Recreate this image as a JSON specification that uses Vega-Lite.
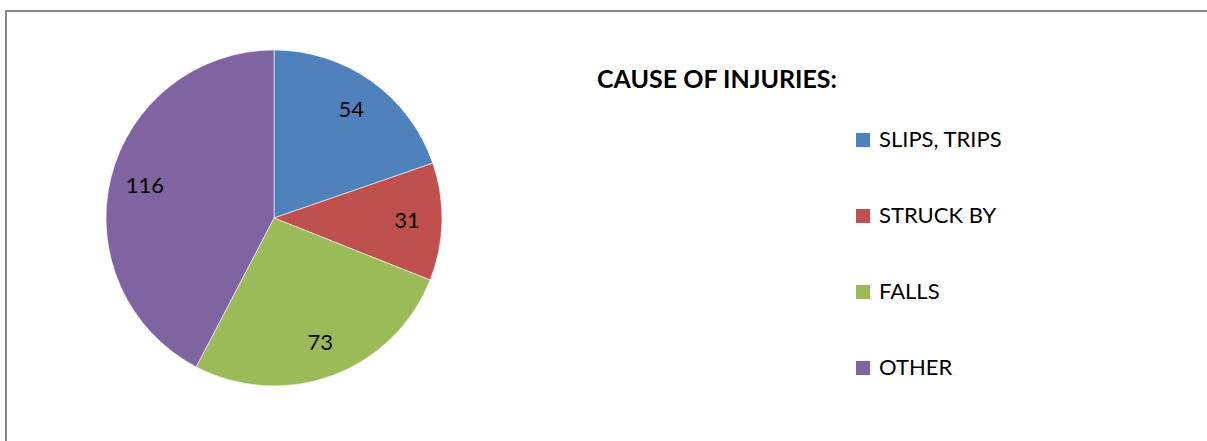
{
  "$schema": "https://vega.github.io/schema/vega-lite/v6.json",
  "autosize": "none",
  "width": 1300,
  "height": 480,
  "padding": {"left": 6, "top": 11, "right": 0, "bottom": 0},
  "background": "white",
  "view": {"stroke": "#878787", "strokeWidth": 2},
  "config": {
    "view": {"stroke": "#878787", "strokeWidth": 2},
    "font": "Lato"
  },
  "title": {
    "text": "CAUSE OF INJURIES:",
    "anchor": "start",
    "frame": "group",
    "orient": "top",
    "baseline": "alphabetic",
    "dx": 591,
    "dy": 102,
    "offset": 0,
    "font": "Lato",
    "fontSize": 25,
    "fontWeight": "bold",
    "color": "#000000"
  },
  "data": {
    "values": [
      {"cause": "SLIPS, TRIPS", "count": 54, "order": 1},
      {"cause": "STRUCK BY", "count": 31, "order": 2},
      {"cause": "FALLS", "count": 73, "order": 3},
      {"cause": "OTHER", "count": 116, "order": 4}
    ]
  },
  "encoding": {
    "theta": {"field": "count", "type": "quantitative", "stack": true},
    "order": {"field": "order", "type": "quantitative"},
    "color": {
      "field": "cause",
      "type": "nominal",
      "sort": ["SLIPS, TRIPS", "STRUCK BY", "FALLS", "OTHER"],
      "scale": {
        "domain": ["SLIPS, TRIPS", "STRUCK BY", "FALLS", "OTHER"],
        "range": ["#4F81BD", "#C0504D", "#9BBB59", "#8064A2"]
      },
      "legend": {
        "title": null,
        "orient": "none",
        "legendX": 846,
        "legendY": 118,
        "padding": 0,
        "symbolType": "square",
        "symbolSize": 196,
        "symbolStrokeWidth": 0,
        "labelFont": "Lato",
        "labelFontSize": 22,
        "labelColor": "#000000",
        "labelOffset": 5,
        "rowPadding": 54,
        "labelLimit": 400
      }
    }
  },
  "layer": [
    {
      "mark": {"type": "arc", "x": 268, "y": 207, "outerRadius": 168, "stroke": "white", "strokeWidth": 0.6}
    },
    {
      "mark": {"type": "text", "x": 268, "y": 207, "radius": 133, "font": "Lato", "fontSize": 22, "color": "#000000", "baseline": "middle", "align": "center"},
      "encoding": {
        "text": {"field": "count", "type": "quantitative"},
        "color": {"value": "#000000"}
      }
    }
  ]
}
